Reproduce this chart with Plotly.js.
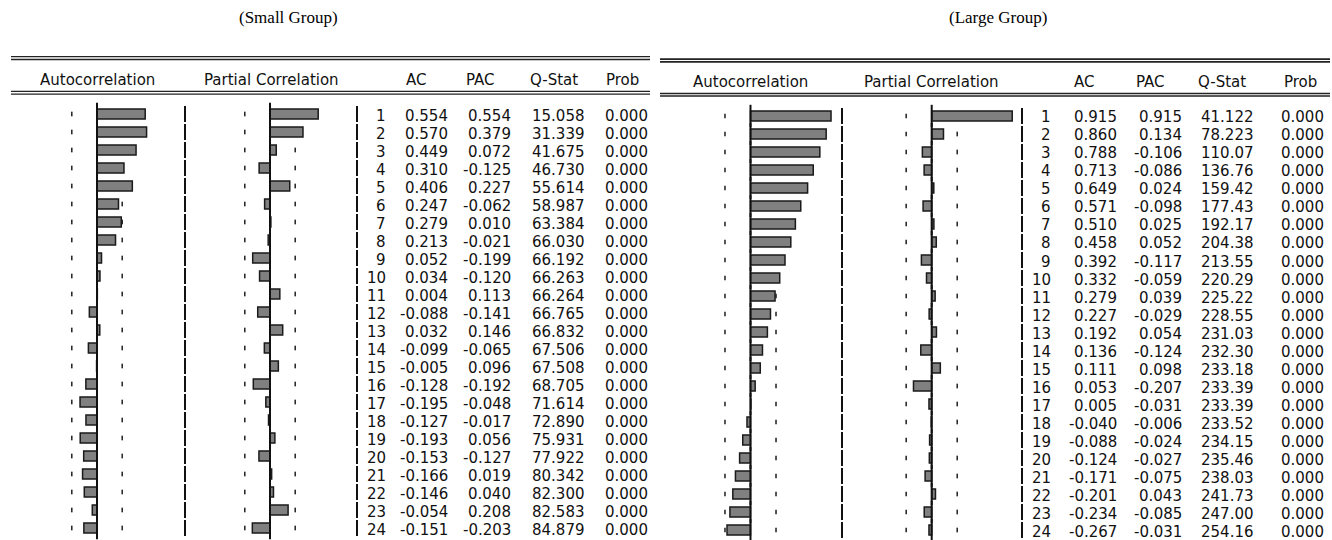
<!DOCTYPE html>
<html>
<head>
<meta charset="utf-8">
<script src="https://cdn.plot.ly/plotly-3.0.1.min.js"></script>
<style>
  html, body { margin: 0; padding: 0; background: #ffffff; }
  #chart { width: 1332px; height: 540px; }
</style>
</head>
<body>
<div id="chart"></div>
<script>
// Correlogram data, lags 1..24
const lags = [1,2,3,4,5,6,7,8,9,10,11,12,13,14,15,16,17,18,19,20,21,22,23,24];

// Small group
const acSmall   = [0.554, 0.570, 0.449, 0.310, 0.406, 0.247, 0.279, 0.213, 0.052, 0.034, 0.004, -0.088,
                   0.032, -0.099, -0.005, -0.128, -0.195, -0.127, -0.193, -0.153, -0.166, -0.146, -0.054, -0.151];
const pacSmall  = [0.554, 0.379, 0.072, -0.125, 0.227, -0.062, 0.010, -0.021, -0.199, -0.120, 0.113, -0.141,
                   0.146, -0.065, 0.096, -0.192, -0.048, -0.017, 0.056, -0.127, 0.019, 0.040, 0.208, -0.203];
const qSmall    = [15.058, 31.339, 41.675, 46.730, 55.614, 58.987, 63.384, 66.030, 66.192, 66.263, 66.264, 66.765,
                   66.832, 67.506, 67.508, 68.705, 71.614, 72.890, 75.931, 77.922, 80.342, 82.300, 82.583, 84.879];
const probSmall = [0,0,0,0,0,0,0,0,0,0,0,0,0,0,0,0,0,0,0,0,0,0,0,0];

// Large group
const acLarge   = [0.915, 0.860, 0.788, 0.713, 0.649, 0.571, 0.510, 0.458, 0.392, 0.332, 0.279, 0.227,
                   0.192, 0.136, 0.111, 0.053, 0.005, -0.040, -0.088, -0.124, -0.171, -0.201, -0.234, -0.267];
const pacLarge  = [0.915, 0.134, -0.106, -0.086, 0.024, -0.098, 0.025, 0.052, -0.117, -0.059, 0.039, -0.029,
                   0.054, -0.124, 0.098, -0.207, -0.031, -0.006, -0.024, -0.027, -0.075, 0.043, -0.085, -0.031];
const qLarge    = [41.122, 78.223, 110.07, 136.76, 159.42, 177.43, 192.17, 204.38, 213.55, 220.29, 225.22, 228.55,
                   231.03, 232.30, 233.18, 233.39, 233.39, 233.52, 234.15, 235.46, 238.03, 241.73, 247.00, 254.16];
const probLarge = [0,0,0,0,0,0,0,0,0,0,0,0,0,0,0,0,0,0,0,0,0,0,0,0];

// Approximate 95% bands (±2/√T) drawn as dashes on each row
const bandSmall = 0.29;
const bandLarge = 0.29;

const panelTitles = ['(Small Group)', '(Large Group)'];
const headers = ['Autocorrelation', 'Partial Correlation', 'AC', 'PAC', 'Q-Stat', 'Prob'];

// ---- page geometry (pixels) ----
const W = 1332, H = 540;
const ROW = 18;                       // row pitch
const px = v => v / W;                // horizontal pixel -> paper
const py = v => 1 - v / H;            // vertical pixel -> paper

const panels = [
  {
    title: panelTitles[0], titleX: 288,
    ac: acSmall, pac: pacSmall, q: qSmall, prob: probSmall, band: bandSmall,
    xa: 'x', xb: 'x2', y: 'y',
    rowTop: 114, textShift: -1.7,
    acZero: 97, pacZero: 270, scale: 87,
    acDom: [20, 180], pacDom: [192, 352],
    seps: [185, 357],
    cols: [387, 449, 512, 586, 649],
    heads: [97, 271, 416, 480, 554, 622], headY: 80,
    rule: [11, 650], topLines: [56.7, 59.5], headLines: [91.4, 94.2], ruleW: 1.3
  },
  {
    title: panelTitles[1], titleX: 998,
    ac: acLarge, pac: pacLarge, q: qLarge, prob: probLarge, band: bandLarge,
    xa: 'x3', xb: 'x4', y: 'y2',
    rowTop: 116, textShift: -1.5,
    acZero: 750.5, pacZero: 931.7, scale: 88,
    acDom: [668, 838], pacDom: [846, 1018],
    seps: [842, 1022],
    cols: [1052, 1118, 1183, 1255, 1325],
    heads: [750, 931, 1084, 1150, 1222, 1300], headY: 82,
    rule: [660, 1330], topLines: [59.2, 61.9], headLines: [93.5, 96.0], ruleW: 1.7
  }
];

const axName = id => id.replace('x', 'xaxis').replace('y', 'yaxis');

const traces = [];
const shapes = [];
const annotations = [];
const layout = {
  width: W, height: H,
  margin: { l: 0, r: 0, t: 0, b: 0, pad: 0 },
  paper_bgcolor: '#ffffff', plot_bgcolor: 'rgba(0,0,0,0)',
  showlegend: false,
  hovermode: false
};

const hidden = { visible: false, showgrid: false, zeroline: false, fixedrange: true };

panels.forEach(p => {
  // x axes: zero of each bar column sits at its pixel column, fixed px-per-unit scale
  const xAxis = (dom, zero) => Object.assign({}, hidden, {
    domain: [px(dom[0]), px(dom[1])],
    range: [(dom[0] - zero) / p.scale, (dom[1] - zero) / p.scale],
    anchor: p.y
  });
  layout[axName(p.xa)] = xAxis(p.acDom, p.acZero);
  layout[axName(p.xb)] = xAxis(p.pacDom, p.pacZero);

  // y axis: lag k sits at rowTop + ROW*(k-1), reversed
  const yTop = 100, yBot = 540;
  layout[axName(p.y)] = Object.assign({}, hidden, {
    domain: [py(yBot), py(yTop)],
    range: [1 + (yBot - p.rowTop) / ROW, 1 + (yTop - p.rowTop) / ROW],
    anchor: p.xa
  });

  [[p.ac, p.xa], [p.pac, p.xb]].forEach(([vals, xa]) => {
    // band dashes sit underneath the bars
    [-p.band, p.band].forEach(b => {
      lags.forEach(k => {
        shapes.push({
          type: 'line', layer: 'below', xref: xa, yref: p.y,
          x0: b, x1: b, y0: k - 0.13, y1: k + 0.13,
          line: { color: '#2a2a2a', width: 1.6 }
        });
      });
    });
    // bars
    traces.push({
      type: 'bar', orientation: 'h',
      x: vals, y: lags, xaxis: xa, yaxis: p.y,
      width: 0.56,
      marker: { color: '#808080', line: { color: '#1a1a1a', width: 1.5 } }
    });
    // zero line, one segment per row
    traces.push({
      type: 'scatter', mode: 'markers',
      x: lags.map(() => 0), y: lags, xaxis: xa, yaxis: p.y,
      marker: { symbol: 'line-ns', size: 16, color: '#111111', line: { color: '#111111', width: 2 } }
    });
  });

  // column separators, one segment per row
  p.seps.forEach(sx => {
    lags.forEach(k => {
      shapes.push({
        type: 'line', xref: 'paper', yref: p.y,
        x0: px(sx), x1: px(sx), y0: k - 0.45, y1: k + 0.45,
        line: { color: '#111111', width: 2 }
      });
    });
  });

  // double rules above and below the header
  [p.topLines, p.headLines].forEach(pair => {
    pair.forEach(yy => {
      shapes.push({
        type: 'line', xref: 'paper', yref: 'paper',
        x0: px(p.rule[0]), x1: px(p.rule[1]), y0: py(yy), y1: py(yy),
        line: { color: '#222222', width: p.ruleW }
      });
    });
  });

  // panel title
  annotations.push({
    xref: 'paper', yref: 'paper', x: px(p.titleX), y: py(18),
    xanchor: 'center', yanchor: 'middle', showarrow: false,
    text: p.title,
    font: { family: 'Liberation Serif, Times New Roman, serif', size: 17, color: '#000000' }
  });

  // column headers
  headers.forEach((h, i) => {
    annotations.push({
      xref: 'paper', yref: 'paper', x: px(p.heads[i]), y: py(p.headY),
      xanchor: 'center', yanchor: 'middle', showarrow: false,
      text: h,
      font: { family: 'DejaVu Sans, sans-serif', size: 15, color: '#111111' }
    });
  });

  // numeric table
  lags.forEach((k, i) => {
    const cells = [
      String(k),
      p.ac[i].toFixed(3),
      p.pac[i].toFixed(3),
      p.q[i].toPrecision(5),
      p.prob[i].toFixed(3)
    ];
    cells.forEach((t, c) => {
      annotations.push({
        xref: 'paper', yref: p.y, x: px(p.cols[c]), y: k,
        xanchor: 'right', yanchor: 'middle', yshift: p.textShift,
        showarrow: false, borderpad: 0,
        text: t,
        font: { family: 'DejaVu Sans, sans-serif', size: 15, color: '#111111' }
      });
    });
  });
});

layout.shapes = shapes;
layout.annotations = annotations;

Plotly.newPlot('chart', traces, layout, { staticPlot: true, displayModeBar: false });
</script>
</body>
</html>
